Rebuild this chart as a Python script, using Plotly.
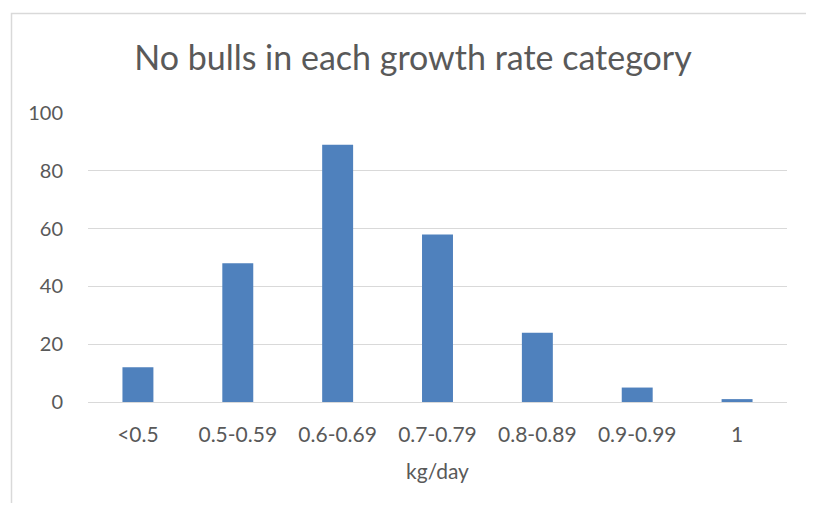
import plotly.graph_objects as go

categories = ["<0.5", "0.5-0.59", "0.6-0.69", "0.7-0.79", "0.8-0.89", "0.9-0.99", "1"]
counts = [12, 48, 89, 58, 24, 5, 1]
y_ticks = [0, 20, 40, 60, 80, 100]

title_text = "No bulls in each growth rate category"
x_title = "kg/day"

OFF = 8  # page body margin
W, H = 814 - 2 * OFF, 511 - 2 * OFF
L, T = 88 - OFF, 113 - OFF
pw, ph = 699, 289
R, B = W - L - pw, H - T - ph

def px_x(x):
    return (x - OFF - L) / pw

def px_y(y):
    return (T + ph - (y - OFF)) / ph

fig = go.Figure(go.Bar(x=categories, y=counts, marker=dict(color="#4f81bd", line=dict(width=0))))

x0, x1 = px_x(11.5), px_x(840)
y0, y1 = px_y(540), px_y(13.5)
border_path = f"M {x0} {y0} L {x0} {y1} L {x1} {y1}"

fig.update_layout(
    width=W, height=H,
    margin=dict(l=L, r=R, t=T, b=B),
    paper_bgcolor="white", plot_bgcolor="white",
    font=dict(family="Lato", color="#595959", size=21),
    bargap=0.69,
    showlegend=False,
    title=dict(text=title_text, x=px_x(413), xref="paper", xanchor="center",
               y=1 - (58 - OFF) / H, yref="container", yanchor="middle",
               font=dict(size=34, color="#595959", family="Lato")),
    xaxis=dict(showgrid=False, showline=False, zeroline=False,
               ticks="outside", ticklen=14, tickcolor="rgba(0,0,0,0)",
               tickfont=dict(size=21, color="#595959"),
               title=dict(text=x_title, standoff=19, font=dict(size=21, color="#595959"))),
    yaxis=dict(range=[0, 100], tickvals=y_ticks, showgrid=True, gridcolor="#d9d9d9", gridwidth=1,
               zeroline=True, zerolinecolor="#d9d9d9", zerolinewidth=1, showline=False,
               ticks="outside", ticklen=20, tickcolor="rgba(0,0,0,0)",
               tickfont=dict(size=20, color="#595959")),
    shapes=[dict(type="path", xref="paper", yref="paper", path=border_path,
                 line=dict(color="#d9d9d9", width=1.5), layer="below")],
)

fig.write_html("out.html")
